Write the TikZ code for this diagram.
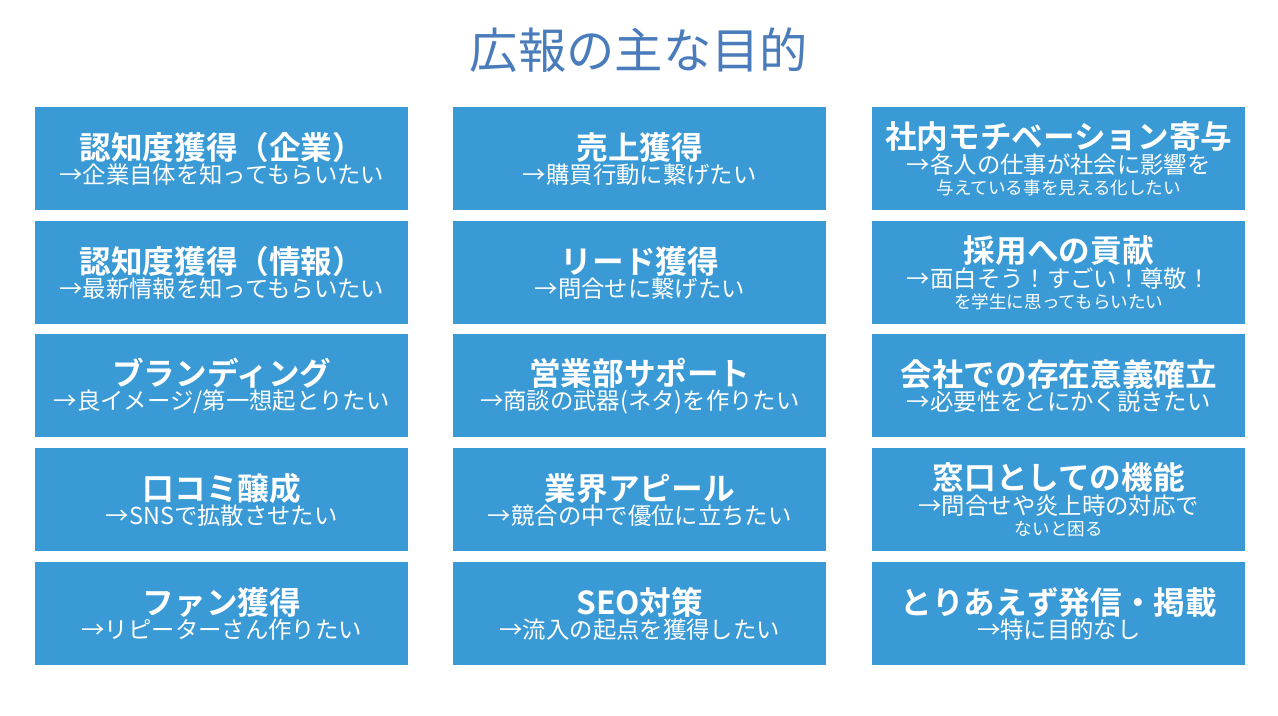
\documentclass[tikz,border=0pt]{standalone}
\usepackage{fontspec}
\setmainfont{Noto Sans CJK JP}[BoldFont={Noto Sans CJK JP Bold}]
\begin{document}
\begin{tikzpicture}[x=0.02cm,y=-0.02cm]
  \definecolor{boxblue}{HTML}{3A9AD5}
  \definecolor{titleblue}{HTML}{4A7CBB}
  \tikzset{goalbox/.style={fill=boxblue,minimum width=7.46cm,minimum height=2.06cm,
      inner sep=0pt,text=white,align=center,anchor=north west}}
  \newcommand{\goal}[4]{\node[goalbox] (#1) at #2 {\fontsize{18}{21}\selectfont\bfseries #3\\[0pt]\fontsize{13.3}{17}\selectfont\mdseries #4};}

  % canvas
  \useasboundingbox[fill=white] (0,0) rectangle (1278,716);

  % title
  \node[text=titleblue,font=\fontsize{27.5}{32}\selectfont] (title) at (639,50) {広報の主な目的};

  % left column
  \goal{a1}{(35,107)}{認知度獲得（企業）}{→企業自体を知ってもらいたい}
  \goal{a2}{(35,221)}{認知度獲得（情報）}{→最新情報を知ってもらいたい}
  \goal{a3}{(35,334)}{ブランディング}{→良イメージ/第一想起とりたい}
  \goal{a4}{(35,448)}{口コミ醸成}{→SNSで拡散させたい}
  \goal{a5}{(35,562)}{ファン獲得}{→リピーターさん作りたい}

  % middle column
  \goal{b1}{(453,107)}{売上獲得}{→購買行動に繋げたい}
  \goal{b2}{(453,221)}{リード獲得}{→問合せに繋げたい}
  \goal{b3}{(453,334)}{営業部サポート}{→商談の武器(ネタ)を作りたい}
  \goal{b4}{(453,448)}{業界アピール}{→競合の中で優位に立ちたい}
  \goal{b5}{(453,562)}{SEO対策}{→流入の起点を獲得したい}

  % right column
  \goal{c1}{(872,107)}{社内モチベーション寄与}{→各人の仕事が社会に影響を\\与えている事を見える化したい}
  \goal{c2}{(872,221)}{採用への貢献}{→面白そう！すごい！尊敬！\\を学生に思ってもらいたい}
  \goal{c3}{(872,334)}{会社での存在意義確立}{→必要性をとにかく説きたい}
  \goal{c4}{(872,448)}{窓口としての機能}{→問合せや炎上時の対応で\\ないと困る}
  \goal{c5}{(872,562)}{とりあえず発信・掲載}{→特に目的なし}

\end{tikzpicture}
\end{document}
